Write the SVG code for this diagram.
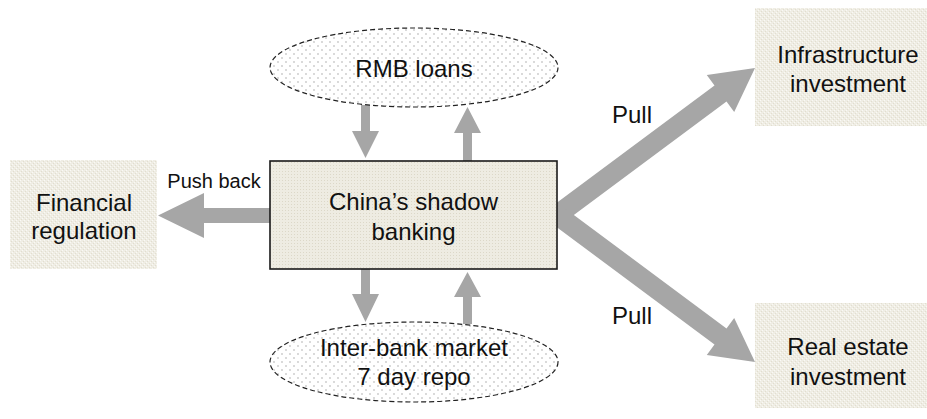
<svg xmlns="http://www.w3.org/2000/svg" width="927" height="419" viewBox="0 0 927 419">
  <defs>
    <pattern id="dots" width="8" height="8" patternUnits="userSpaceOnUse">
      <rect width="8" height="8" fill="#ffffff"/>
      <circle cx="2" cy="2" r="0.7" fill="#9a9a9a"/>
      <circle cx="6" cy="6" r="0.7" fill="#9a9a9a"/>
    </pattern>
    <pattern id="fineTex" width="3" height="3" patternUnits="userSpaceOnUse">
      <rect width="3" height="3" fill="#EEECE2"/>
      <rect x="0" y="0" width="1" height="1" fill="#DCD8C8"/>
    </pattern>
    <pattern id="lightTex" width="4" height="4" patternUnits="userSpaceOnUse">
      <rect width="4" height="4" fill="#EFEDE4"/>
      <rect x="0" y="0" width="1" height="1" fill="#FAF9F5"/>
      <rect x="2" y="2" width="1" height="1" fill="#FAF9F5"/>
      <rect x="1" y="3" width="1" height="1" fill="#E2DECF"/>
      <rect x="3" y="1" width="1" height="1" fill="#E2DECF"/>
    </pattern>
  </defs>
  <style>
    .t { font-family: "Liberation Sans", Arial, sans-serif; font-size: 24px; fill: #111; text-anchor: middle; }
    .s { font-family: "Liberation Sans", Arial, sans-serif; font-size: 20px; fill: #111; text-anchor: middle; }
    .arrow { fill: #A6A6A6; stroke: none; }
    .ell { fill: url(#dots); stroke: #222; stroke-width: 1.2; stroke-dasharray: 5 3; }
    .side { fill: url(#lightTex); stroke: none; }
  </style>

  <g id="connectors">
    <!-- Push back -->
    <polygon class="arrow" points="158,215.5 204,193 204,208 272,208 272,223 204,223 204,238"/>
    <!-- RMB loans down to box -->
    <polygon class="arrow" points="361,105 370,105 370,131 379,131 365.5,158 352,131 361,131"/>
    <!-- box up to RMB loans -->
    <polygon class="arrow" points="467.5,107 481,133 472,133 472,163 463,163 463,133 454,133"/>
    <!-- box down to inter-bank -->
    <polygon class="arrow" points="361,267 370,267 370,294 379,294 365.5,322 352,294 361,294"/>
    <!-- inter-bank up to box -->
    <polygon class="arrow" points="467.5,272 481,297 472,297 472,324 463,324 463,297 454,297"/>
    <!-- Pull to infrastructure -->
    <polygon class="arrow" points="543,213 714.5,85.6 706.8,75.1 755,68 734.2,112.1 726.5,101.6 555,229"/>
    <!-- Pull to real estate -->
    <polygon class="arrow" points="543,217 714.5,344.4 706.8,354.9 755,362 734.2,317.9 726.5,328.4 555,201"/>
    <text class="s" x="214" y="188">Push back</text>
    <text class="t" x="632" y="123">Pull</text>
    <text class="t" x="632" y="324">Pull</text>
  </g>

  <g id="shadow-banking">
    <rect x="270" y="161" width="287" height="108" fill="url(#fineTex)" stroke="#1a1a1a" stroke-width="1.6"/>
    <text class="t" x="413.5" y="210">China’s shadow</text>
    <text class="t" x="413.5" y="240">banking</text>
  </g>

  <g id="financial-regulation">
    <rect class="side" x="10" y="160" width="147" height="109"/>
    <text class="t" x="84" y="211">Financial</text>
    <text class="t" x="84" y="239">regulation</text>
  </g>

  <g id="rmb-loans">
    <ellipse class="ell" cx="414" cy="67.5" rx="144" ry="39.5"/>
    <text class="t" x="414" y="77">RMB loans</text>
  </g>

  <g id="inter-bank">
    <ellipse class="ell" cx="414" cy="362" rx="144" ry="40"/>
    <text class="t" x="414" y="356">Inter-bank market</text>
    <text class="t" x="414" y="385">7 day repo</text>
  </g>

  <g id="infrastructure">
    <rect class="side" x="755" y="8" width="186" height="118"/>
    <text class="t" x="848" y="63">Infrastructure</text>
    <text class="t" x="848" y="92">investment</text>
  </g>

  <g id="real-estate">
    <rect class="side" x="755" y="303" width="186" height="105"/>
    <text class="t" x="848" y="355">Real estate</text>
    <text class="t" x="848" y="385">investment</text>
  </g>
</svg>
